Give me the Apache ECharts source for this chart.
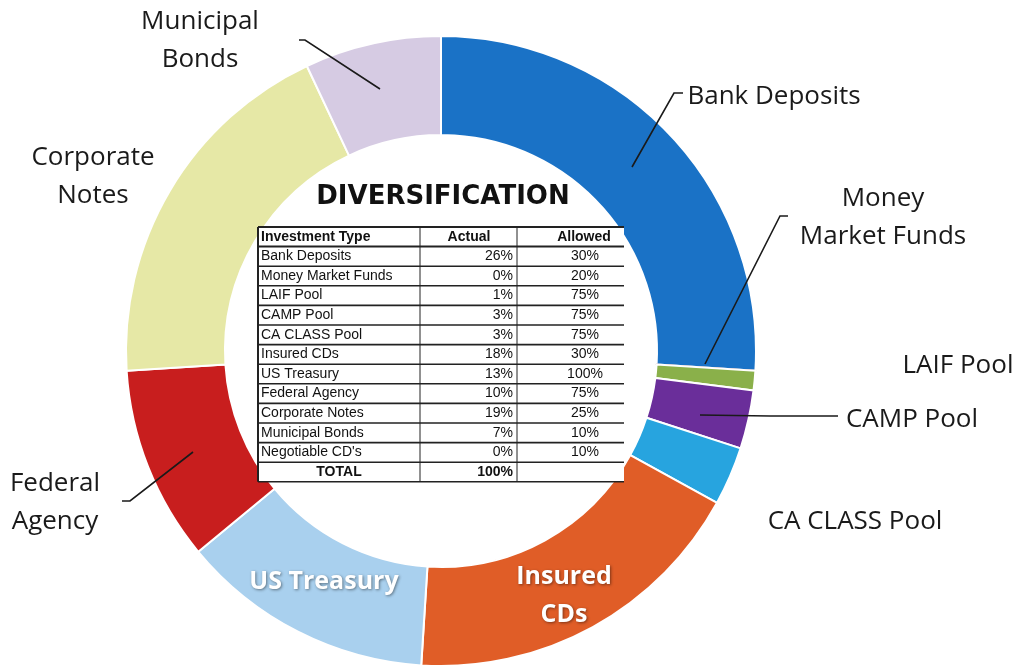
<!DOCTYPE html>
<html>
<head>
<meta charset="utf-8">
<title>Diversification</title>
<script src="https://cdn.jsdelivr.net/npm/echarts@6/dist/echarts.min.js"></script>
<style>
  html, body { margin: 0; padding: 0; background: #fff; }
  #chart { width: 1017px; height: 671px; }
</style>
</head>
<body>
<div id="chart"></div>
<script>
// table rows (the last one is not on the ring)
const investmentTypes = ['Bank Deposits', 'Money Market Funds', 'LAIF Pool', 'CAMP Pool', 'CA CLASS Pool',
  'Insured CDs', 'US Treasury', 'Federal Agency', 'Corporate Notes', 'Municipal Bonds', "Negotiable CD's"];
const actualPct = [26, 0, 1, 3, 3, 18, 13, 10, 19, 7, 0];
const allowedPct = [30, 20, 75, 75, 75, 30, 100, 75, 25, 10, 10];
const totalPct = 100;

// ring labels, clockwise from 12 o'clock
const ringLabels = ['Bank Deposits', 'Money\nMarket Funds', 'LAIF Pool', 'CAMP Pool', 'CA CLASS Pool',
  'Insured\nCDs', 'US Treasury', 'Federal\nAgency', 'Corporate\nNotes', 'Municipal\nBonds'];
const sliceColors = ['#1a72c6', '#7a2a2a', '#8ab04a', '#6a2e9a', '#27a4df',
  '#e05d27', '#a9d0ee', '#c81e1e', '#e6e8a6', '#d6cbe3'];

// where each ring label sits, and its leader line if it has one
const labelSpots = [
  { x: 774, y: 97, line: [[632, 167], [674, 93], [683, 93]] },
  { x: 883, y: 218, line: [[705, 364], [780, 216], [788, 216]] },
  { x: 958, y: 366 },
  { x: 912, y: 420, line: [[700, 415], [770, 416], [838, 416]] },
  { x: 855, y: 522 },
  { x: 564, y: 596 },
  { x: 324, y: 582 },
  { x: 55, y: 503, line: [[193, 452], [130, 501], [122, 501]] },
  { x: 93, y: 177 },
  { x: 200, y: 41, line: [[380, 89], [305, 40], [299, 40]] }
];
const insideLabels = [5, 6];

const chart = echarts.init(document.getElementById('chart'));

const pieData = ringLabels.map(function (lab, i) {
  const item = {
    name: investmentTypes[i],
    value: actualPct[i],
    itemStyle: { color: sliceColors[i] }
  };
  if (insideLabels.indexOf(i) >= 0) {
    item.label = {
      color: '#fff',
      fontWeight: 'bold',
      fontSize: 25,
      textShadowColor: 'rgba(0,0,0,0.45)',
      textShadowBlur: 3,
      textShadowOffsetX: 1,
      textShadowOffsetY: 1
    };
  }
  if (actualPct[i] === 0) {
    // zero slice shows as a thin dark line
    item.itemStyle.borderColor = sliceColors[i];
    item.itemStyle.borderWidth = 1.5;
  }
  return item;
});

// ---- table in the middle ----
const rowH = 19.6;
const tTop = 227;
const colX = [258, 420, 517, 624];
const els = [];
els.push({
  type: 'rect', z: 100,
  shape: { x: colX[0], y: tTop, width: colX[3] - colX[0], height: 13 * rowH },
  style: { fill: '#fff' }
});
els.push({
  type: 'text', z: 101, x: 443, y: 197,
  style: {
    text: 'DIVERSIFICATION', align: 'center', verticalAlign: 'middle',
    fontFamily: 'DejaVu Sans', fontWeight: 'bold', fontSize: 26, fill: '#111'
  }
});

function cellText(txt, x, y, align, bold) {
  els.push({
    type: 'text', z: 102, x: x, y: y,
    style: {
      text: txt, align: align, verticalAlign: 'middle',
      fontFamily: 'Liberation Sans', fontSize: 14, fontWeight: bold ? 'bold' : 'normal', fill: '#111'
    }
  });
}

let cy = tTop + rowH / 2;
cellText('Investment Type', colX[0] + 3, cy, 'left', true);
cellText('Actual', 469, cy, 'center', true);
cellText('Allowed', 584, cy, 'center', true);
for (let i = 0; i < investmentTypes.length; i++) {
  cy = tTop + (i + 1.5) * rowH;
  cellText(investmentTypes[i], colX[0] + 3, cy, 'left', false);
  cellText(actualPct[i] + '%', colX[2] - 4, cy, 'right', false);
  cellText(allowedPct[i] + '%', 585, cy, 'center', false);
}
cy = tTop + (investmentTypes.length + 1.5) * rowH;
cellText('TOTAL', 339, cy, 'center', true);
cellText(totalPct + '%', colX[2] - 4, cy, 'right', true);

for (let r = 0; r <= investmentTypes.length + 2; r++) {
  const y = tTop + r * rowH;
  els.push({
    type: 'line', z: 103,
    shape: { x1: colX[0], y1: y, x2: colX[3], y2: y },
    style: { stroke: '#222', lineWidth: (r === 0 || r === 1) ? 2 : 1.6 }
  });
}
[0, 1, 2].forEach(function (c) {
  els.push({
    type: 'line', z: 103,
    shape: { x1: colX[c], y1: tTop, x2: colX[c], y2: tTop + 13 * rowH },
    style: { stroke: '#222', lineWidth: c === 0 ? 2 : 1 }
  });
});

// leader lines, drawn on top of the ring
labelSpots.forEach(function (s) {
  if (!s.line) return;
  els.push({
    type: 'polyline', z: 104,
    shape: { points: s.line },
    style: { stroke: '#1a1a1a', lineWidth: 1.6, fill: null }
  });
});

chart.setOption({
  animation: false,
  series: [{
    type: 'pie',
    center: [441, 351],
    radius: [216, 315],
    startAngle: 90,
    clockwise: true,
    avoidLabelOverlap: false,
    emphasis: { disabled: true },
    itemStyle: { borderColor: '#fff', borderWidth: 2 },
    label: {
      show: true,
      position: 'outside',
      formatter: function (p) { return ringLabels[p.dataIndex]; },
      fontFamily: 'Open Sans',
      fontSize: 26,
      lineHeight: 38,
      color: '#1a1a1a',
      align: 'center'
    },
    labelLine: { show: false },
    labelLayout: function (p) {
      const s = labelSpots[p.dataIndex];
      return { x: s.x, y: s.y, align: 'center', verticalAlign: 'middle', hideOverlap: false };
    },
    data: pieData
  }],
  graphic: { elements: els }
});

window.addEventListener('resize', function () {
  chart.resize();
});
</script>
</body>
</html>
